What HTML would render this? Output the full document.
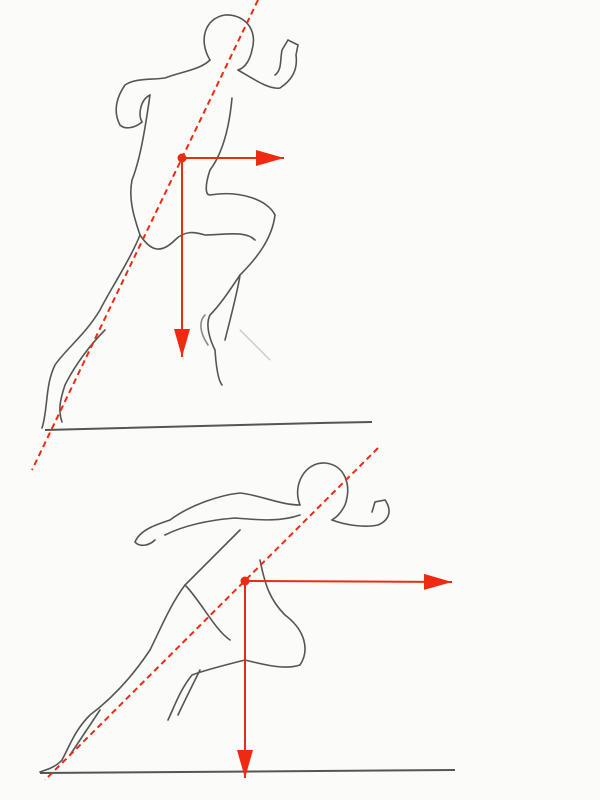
<!DOCTYPE html>
<html><head><meta charset="utf-8"><style>
html,body{margin:0;padding:0;background:#fbfbfa;}
svg{display:block;}
</style></head><body>
<svg width="600" height="800" viewBox="0 0 600 800">
<defs>
<marker id="ah" markerWidth="10" markerHeight="10" refX="9" refY="5" orient="auto" markerUnits="userSpaceOnUse">
<path d="M0,0 L10,5 L0,10 Z" fill="#ee2a10"/></marker>
<marker id="ah2" markerWidth="30" markerHeight="16" refX="28" refY="8" orient="auto" markerUnits="userSpaceOnUse">
<path d="M0,0 L28,8 L0,16 Z" fill="#ee2a10"/></marker>
</defs>
<rect width="600" height="800" fill="#fbfbfa"/>
<!-- top figure -->
<g fill="none" stroke="#555" stroke-width="1.6" stroke-linecap="round">
<path d="M210,60 C198,40 205,18 225,15 C245,14 258,30 252,50 C250,60 245,68 238,70"/>
<path d="M210,60 C200,70 180,72 165,78 C150,80 135,78 125,85 C118,95 112,110 120,125 C125,130 135,128 142,122"/>
<path d="M142,122 C138,115 140,100 150,95"/>
<path d="M238,70 C255,80 270,90 280,88 C292,80 298,70 296,55 L298,45 L288,40 L282,50 C280,60 282,70 275,75"/>
<path d="M150,95 C145,130 140,160 132,180 C128,200 135,220 140,235 C130,260 110,290 100,310 C85,335 65,350 55,365 C45,385 48,410 42,428"/>
<path d="M232,98 C230,120 225,150 210,170 C205,185 205,195 210,195 C240,190 268,200 275,215 C272,240 255,260 240,275 C230,290 220,305 210,315 C205,325 210,340 215,350 C216,365 218,380 222,385"/>
<path d="M240,275 C238,290 230,320 225,340"/>
<path d="M140,235 C150,250 160,255 175,240 C185,230 195,232 205,235 C225,235 245,230 255,240"/>
<path d="M105,330 C90,345 75,365 65,385 C60,400 58,410 62,422"/>
<path d="M205,315 C200,320 198,330 208,345" stroke="#888"/>
<path d="M240,330 C255,345 265,355 270,360" stroke="#bbb" stroke-width="1"/>
</g>
<path d="M45,430 C120,428 250,424 372,422" fill="none" stroke="#555" stroke-width="2"/>
<g stroke="#ee2a10" stroke-width="2" fill="none">
<line x1="258" y1="0" x2="32" y2="470" stroke-dasharray="6,4"/>
<line x1="182" y1="158" x2="284" y2="158" marker-end="url(#ah2)"/>
<line x1="182" y1="158" x2="182" y2="357" marker-end="url(#ah2)"/>
<circle cx="182" cy="158" r="4.5" fill="#ee2a10" stroke="none"/>
</g>
<!-- bottom figure -->
<g fill="none" stroke="#555" stroke-width="1.6" stroke-linecap="round">
<path d="M300,505 C292,485 305,462 325,463 C345,465 352,485 345,505 C340,515 335,518 332,520"/>
<path d="M300,505 C280,505 260,495 240,493 C220,495 190,505 170,520 C155,525 140,530 135,542 C140,548 150,545 155,540"/>
<path d="M165,535 C185,525 210,520 235,518 C260,520 280,522 300,515"/>
<path d="M332,520 C345,525 365,528 378,525 C390,520 392,510 385,500 L375,502 L372,512"/>
<path d="M240,530 C220,550 200,570 185,585 C170,605 160,630 150,650 C130,680 110,700 90,715 C75,730 70,745 62,760 C55,768 45,770 40,772"/>
<path d="M260,560 C265,585 270,600 285,615 C305,630 310,650 300,665 C285,670 265,665 245,660 C225,665 205,670 192,675 C180,690 175,705 168,720"/>
<path d="M200,670 C190,690 185,700 178,715"/>
<path d="M185,585 C200,600 215,630 230,640"/>
<path d="M100,710 C90,725 80,740 70,755"/>
</g>
<path d="M40,773 C150,772 300,771 455,770" fill="none" stroke="#555" stroke-width="2"/>
<g stroke="#ee2a10" stroke-width="2" fill="none">
<line x1="378" y1="448" x2="45" y2="780" stroke-dasharray="6,4"/>
<line x1="245" y1="581" x2="452" y2="582" marker-end="url(#ah2)"/>
<line x1="245" y1="581" x2="245" y2="778" marker-end="url(#ah2)"/>
<circle cx="245" cy="581" r="4.5" fill="#ee2a10" stroke="none"/>
</g>
</svg>
</body></html>
